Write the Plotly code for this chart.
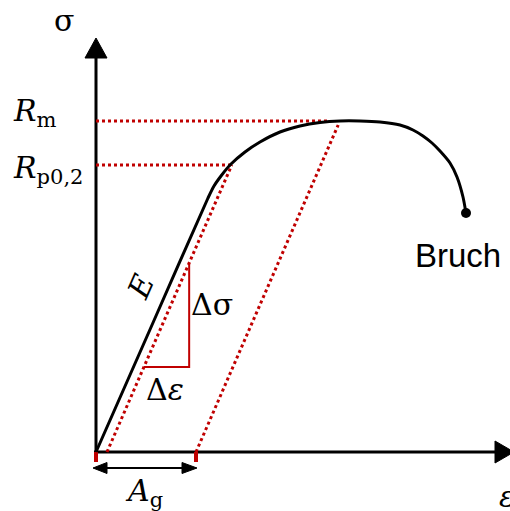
import plotly.graph_objects as go

# Engineering stress-strain curve (strain, stress) in drawing units
eps_curve = [0, 56, 112, 118, 125, 134, 149, 164, 184, 204, 224, 244, 264, 284, 304, 317, 327, 336, 344, 354, 361, 367, 370]
sig_curve = [0, 127, 254, 266, 276, 287, 300, 310, 320, 326, 329.5, 331, 331, 330, 327, 322, 316, 309, 301, 289, 275, 255, 239]

# Characteristic values
R_m = 331          # tensile strength
R_p02 = 287        # 0.2 % proof stress
A_g = 100          # uniform elongation
eps_offset = 11    # offset of the proof-stress line
E_slope = 2.3      # slope of the elastic line
dsig_lo, dsig_hi = 85, 189   # slope triangle stress levels

RED = "#c00000"
BLACK = "#000000"
MATH = "DejaVu Serif"

fig = go.Figure()

def line(x, y, color, width, dash="solid"):
    fig.add_trace(go.Scatter(x=x, y=y, mode="lines", hoverinfo="skip",
                             line=dict(color=color, width=width, dash=dash)))

def tri(x, y, color=BLACK):
    fig.add_trace(go.Scatter(x=x, y=y, mode="lines", fill="toself", fillcolor=color,
                             hoverinfo="skip", line=dict(color=color, width=1)))

# axes with arrowheads
line([0, 0], [-3, 394], BLACK, 3)
tri([-11, 11, 0, -11], [394, 394, 414, 394])
line([-2, 399], [0, 0], BLACK, 3)
tri([399, 399, 418, 399], [-11, 11, 0, -11])

# helper lines (dotted red)
line([0, 234], [R_m, R_m], RED, 3, "dot")
line([0, eps_offset + R_p02 / E_slope], [R_p02, R_p02], RED, 3, "dot")
line([eps_offset, eps_offset + R_p02 / E_slope], [0, R_p02], RED, 3, "dot")
line([A_g, A_g + 327 / E_slope], [0, 327], RED, 3, "dot")

# slope triangle
e_lo = eps_offset + dsig_lo / E_slope
e_hi = eps_offset + dsig_hi / E_slope
line([e_lo, e_hi, e_hi], [dsig_lo, dsig_lo, dsig_hi], RED, 2)

# ticks marking A_g
line([0, 0], [0, -10], RED, 4)
line([A_g, A_g], [0, -10], RED, 4)

# A_g double arrow
line([11, A_g - 14], [-16, -16], BLACK, 2)
tri([-3, 11, 11, -3], [-16, -10.5, -21.5, -16])
tri([A_g + 1, A_g - 14, A_g - 14, A_g + 1], [-16, -10.5, -21.5, -16])

# stress-strain curve
fig.add_trace(go.Scatter(x=eps_curve, y=sig_curve, mode="lines", hoverinfo="skip",
                         line=dict(color=BLACK, width=3, shape="spline", smoothing=0.6)))
fig.add_trace(go.Scatter(x=[eps_curve[-1]], y=[sig_curve[-1]], mode="markers", hoverinfo="skip",
                         marker=dict(color=BLACK, size=10)))

def label(x, y, text, size=30, family=MATH, xanchor="center", yanchor="middle", angle=0):
    fig.add_annotation(x=x, y=y, text=text, showarrow=False, xanchor=xanchor, yanchor=yanchor,
                       textangle=angle, font=dict(family=family, size=size, color=BLACK))

label(-32, 432, "σ")
label(-85, 340, "<i>R</i><sub>m</sub>", xanchor="left")
label(-85, 283, "<i>R</i><sub>p0,2</sub>", xanchor="left")
label(44, 165, "<i>E</i>", angle=-66)
label(116, 148, "Δσ")
label(69, 63, "Δ<i>ε</i>")
label(362, 197, "Bruch", size=33, family="Liberation Sans")
label(48, -40, "<i>A</i><sub>g</sub>")
label(411, -44, "<i>ε</i>")

fig.update_layout(
    width=510, height=511, margin=dict(l=0, r=0, t=0, b=0),
    paper_bgcolor="white", plot_bgcolor="white", showlegend=False,
    xaxis=dict(range=[-96, 414], visible=False, fixedrange=True),
    yaxis=dict(range=[-59, 452], visible=False, fixedrange=True),
)

fig.write_html("out.html")
